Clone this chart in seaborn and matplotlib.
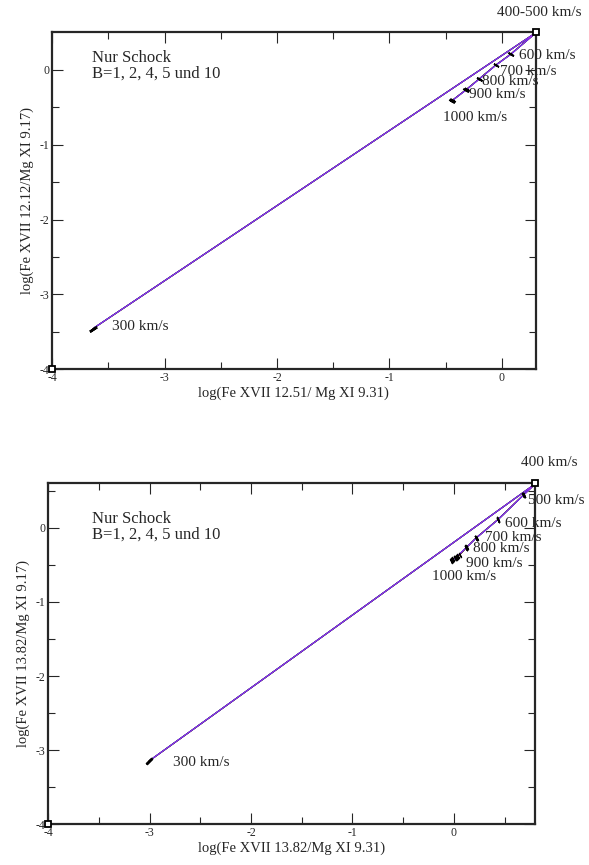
import numpy as np
import pandas as pd
import matplotlib
matplotlib.use("Agg")
import matplotlib.pyplot as plt
import seaborn as sns

# Geschwindigkeiten (km/s) und Magnetfeld-Werte
velocities = [300, 400, 500, 600, 700, 800, 900, 1000]
b_values = [1, 2, 4, 5, 10]
b_colors = ["black", "red", "#00cc00", "blue", "#9a30e8"]

# oberes Panel: x = log(Fe XVII 12.51/Mg XI 9.31), y = log(Fe XVII 12.12/Mg XI 9.17)
top_x = {
    1: [-3.640, 0.300, 0.295, 0.074, -0.057, -0.208, -0.327, -0.454],
    2: [-3.635, 0.300, 0.295, 0.076, -0.055, -0.205, -0.322, -0.448],
    4: [-3.630, 0.300, 0.295, 0.078, -0.053, -0.202, -0.318, -0.443],
    5: [-3.628, 0.300, 0.295, 0.079, -0.052, -0.200, -0.316, -0.440],
    10: [-3.625, 0.300, 0.295, 0.080, -0.050, -0.198, -0.312, -0.436],
}
top_y = {
    1: [-3.460, 0.493, 0.485, 0.204, 0.061, -0.129, -0.276, -0.423],
    2: [-3.455, 0.493, 0.485, 0.205, 0.062, -0.126, -0.271, -0.417],
    4: [-3.450, 0.493, 0.485, 0.206, 0.063, -0.123, -0.267, -0.412],
    5: [-3.447, 0.493, 0.485, 0.207, 0.064, -0.121, -0.265, -0.409],
    10: [-3.445, 0.493, 0.485, 0.208, 0.065, -0.119, -0.262, -0.405],
}

# unteres Panel: x = log(Fe XVII 13.82/Mg XI 9.31), y = log(Fe XVII 13.82/Mg XI 9.17)
bot_x = {
    1: [-3.010, 0.800, 0.685, 0.432, 0.218, 0.126, 0.060, 0.010],
    2: [-3.006, 0.800, 0.686, 0.434, 0.220, 0.124, 0.045, -0.005],
    4: [-3.003, 0.800, 0.687, 0.436, 0.222, 0.122, 0.030, -0.015],
    5: [-3.001, 0.800, 0.688, 0.437, 0.223, 0.121, 0.020, -0.020],
    10: [-2.998, 0.800, 0.689, 0.438, 0.225, 0.120, 0.010, -0.025],
}
bot_y = {
    1: [-3.150, 0.590, 0.441, 0.109, -0.137, -0.264, -0.362, -0.406],
    2: [-3.146, 0.590, 0.442, 0.110, -0.136, -0.266, -0.380, -0.425],
    4: [-3.142, 0.590, 0.443, 0.111, -0.135, -0.268, -0.395, -0.435],
    5: [-3.140, 0.590, 0.444, 0.112, -0.134, -0.269, -0.405, -0.440],
    10: [-3.137, 0.590, 0.445, 0.113, -0.133, -0.270, -0.412, -0.446],
}


def make_frame(xs, ys):
    rows = []
    for b in b_values:
        for i, v in enumerate(velocities):
            rows.append({"B": b, "v": v, "x": xs[b][i], "y": ys[b][i]})
    return pd.DataFrame(rows)


sns.set_style("ticks")
plt.rcParams["font.family"] = ["Liberation Serif", "DejaVu Serif"]
plt.rcParams["axes.linewidth"] = 1.6
plt.rcParams["axes.unicode_minus"] = False

fig = plt.figure(figsize=(5.89, 8.65), dpi=100)


def draw_panel(ax, df, xlim, ylim, xlabel, ylabel, tick_angle, low_angle, labels, note_pos):
    sns.lineplot(data=df, x="x", y="y", hue="B", palette=b_colors, sort=False,
                 estimator=None, units="B", lw=0.8, legend=False, ax=ax)
    # kleine Markierungen an den Geschwindigkeitspunkten
    hi = df[df["v"] >= 500]
    ax.plot(hi["x"], hi["y"], ls="none", marker=(2, 2, tick_angle), ms=4,
            mew=0.9, color="black")
    lo = df[(df["v"] == 300) & (df["B"] == 1)]
    ax.plot(lo["x"], lo["y"], ls="none", marker=(2, 2, low_angle), ms=6,
            mew=1.8, color="black")
    # Eckmarken
    ax.plot([xlim[0], xlim[1]], [ylim[0], ylim[1]], ls="none", marker="s", ms=4,
            mfc="white", mec="black", mew=1.3, clip_on=False, zorder=5)
    ax.set_xlim(*xlim)
    ax.set_ylim(*ylim)
    ax.set_xticks([-4, -3, -2, -1, 0])
    ax.set_yticks([-4, -3, -2, -1, 0])
    ax.set_xticks(np.arange(-3.5, xlim[1], 1.0), minor=True)
    ax.set_yticks(np.arange(-3.5, ylim[1], 1.0), minor=True)
    ax.tick_params(which="both", direction="in", top=True, right=True,
                   labelsize=8.5, width=0.8, pad=2)
    ax.tick_params(which="major", length=8)
    ax.tick_params(which="minor", length=5)
    ax.set_xlabel(xlabel, fontsize=10.5, labelpad=2)
    ax.set_ylabel(ylabel, fontsize=10.5, labelpad=4)
    for txt, (tx, ty) in labels:
        ax.text(tx, ty, txt, fontsize=11, ha="left", va="center", clip_on=False)
    ax.text(note_pos[0], note_pos[1], "Nur Schock\nB=1, 2, 4, 5 und 10",
            fontsize=12, ha="left", va="top", linespacing=1.0)


ax1 = fig.add_axes([52.1 / 589, 1 - 369.3 / 865, (535.7 - 52.1) / 589, (369.3 - 32.3) / 865])
draw_panel(
    ax1, make_frame(top_x, top_y), (-4, 0.3), (-4, 0.5),
    "log(Fe XVII 12.51/ Mg XI 9.31)", "log(Fe XVII 12.12/Mg XI 9.17)",
    58, -57,
    [("400-500 km/s", (-0.042, 0.764)), ("600 km/s", (0.148, 0.191)),
     ("700 km/s", (-0.015, -0.019)), ("800 km/s", (-0.178, -0.156)),
     ("900 km/s", (-0.297, -0.333)), ("1000 km/s", (-0.525, -0.632)),
     ("300 km/s", (-3.470, -3.432))],
    (-3.648, 0.27),
)

ax2 = fig.add_axes([48.3 / 589, 1 - 824.3 / 865, (535 - 48.3) / 589, (824.3 - 483.3) / 865])
draw_panel(
    ax2, make_frame(bot_x, bot_y), (-4, 0.8), (-4, 0.6),
    "log(Fe XVII 13.82/Mg XI 9.31)", "log(Fe XVII 13.82/Mg XI 9.17)",
    25, -45,
    [("400 km/s", (0.659, 0.880)), ("500 km/s", (0.728, 0.365)),
     ("600 km/s", (0.504, 0.051)), ("700 km/s", (0.307, -0.137)),
     ("800 km/s", (0.185, -0.277)), ("900 km/s", (0.119, -0.487)),
     ("1000 km/s", (-0.219, -0.658)), ("300 km/s", (-2.767, -3.166))],
    (-3.569, 0.23),
)

fig.savefig("out.png", dpi=100)
